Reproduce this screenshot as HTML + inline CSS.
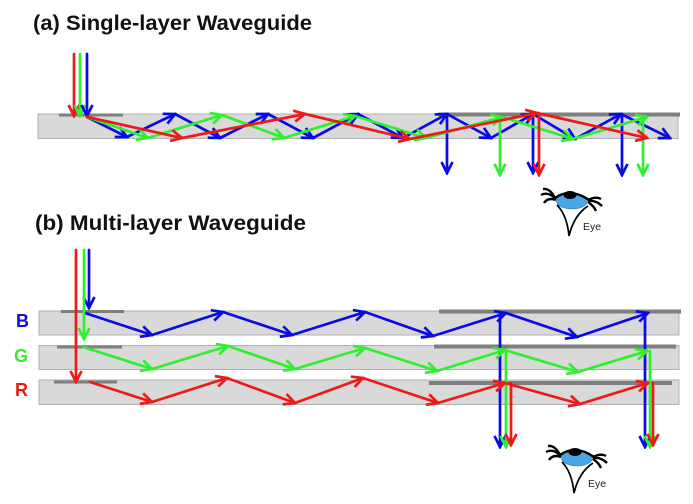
<!DOCTYPE html>
<html><head><meta charset="utf-8"><style>
html,body{margin:0;padding:0;background:#fff;}
svg{display:block;}
</style></head><body>
<svg width="693" height="504" viewBox="0 0 693 504" xmlns="http://www.w3.org/2000/svg">
<defs>
<marker id="mb" viewBox="-13 -8 15 16" refX="0" refY="0" markerWidth="15" markerHeight="16" markerUnits="userSpaceOnUse" orient="auto"><path d="M-11,-5.5 L0,0 L-11,5.5" fill="none" stroke="#0a0ae6" stroke-width="2.7"/></marker>
<marker id="mg" viewBox="-13 -8 15 16" refX="0" refY="0" markerWidth="15" markerHeight="16" markerUnits="userSpaceOnUse" orient="auto"><path d="M-11,-5.5 L0,0 L-11,5.5" fill="none" stroke="#2ff02f" stroke-width="2.7"/></marker>
<marker id="mr" viewBox="-13 -8 15 16" refX="0" refY="0" markerWidth="15" markerHeight="16" markerUnits="userSpaceOnUse" orient="auto"><path d="M-11,-5.5 L0,0 L-11,5.5" fill="none" stroke="#ee1a1a" stroke-width="2.7"/></marker>
<g id="eye">
  <ellipse cx="0" cy="0" rx="15.5" ry="8" fill="#4aa6e6" stroke="#2a6fb0" stroke-width="0.6"/>
  <ellipse cx="-2" cy="-6" rx="6.5" ry="4" fill="#000"/>
  <path d="M-17,-3 Q-2,-14 17,-1" fill="none" stroke="#000" stroke-width="2.4"/>
  <path d="M-16,-2 Q-24,-10 -31,-6 M-16,-1 Q-24,-4 -28,2 M-17,-3 Q-22,-13 -29,-12" fill="none" stroke="#000" stroke-width="2.4"/>
  <path d="M16,0 Q24,-1 30,5 M16,1 Q22,5 24,10 M16,-1 Q24,-5 29,-2" fill="none" stroke="#000" stroke-width="2.4"/>
  <path d="M-15,4 Q-5,14 -3,35 M16,5 Q2,14 -3,35" fill="none" stroke="#000" stroke-width="1.7"/>
  <text x="11" y="29" font-family="Liberation Sans, sans-serif" font-size="10.5" fill="#222">Eye</text>
</g>
</defs>

<!-- Titles -->
<text x="33" y="30" font-family="Liberation Sans, sans-serif" font-weight="bold" font-size="21" textLength="279" lengthAdjust="spacingAndGlyphs" fill="#111">(a) Single-layer Waveguide</text>
<text x="35" y="230" font-family="Liberation Sans, sans-serif" font-weight="bold" font-size="21" textLength="271" lengthAdjust="spacingAndGlyphs" fill="#111">(b) Multi-layer Waveguide</text>

<!-- Panel (a) waveguide -->
<rect x="38" y="114" width="640" height="24.5" fill="#d9d9d9" stroke="#b0b0b0" stroke-width="1"/>
<rect x="59" y="113.5" width="64" height="3" fill="#7f7f7f"/>
<rect x="438" y="112.5" width="242" height="4" fill="#7f7f7f"/>

<g stroke-width="2.7" fill="none" stroke-linecap="round">
<!-- inputs a -->
<line x1="74" y1="54" x2="74" y2="116" stroke="#ee1a1a" marker-end="url(#mr)"/>
<line x1="80" y1="54" x2="80" y2="116" stroke="#2ff02f" marker-end="url(#mg)"/>
<line x1="87" y1="54" x2="87" y2="116" stroke="#0a0ae6" marker-end="url(#mb)"/>
<!-- blue a -->
<g stroke="#0a0ae6">
<line x1="87" y1="117" x2="127" y2="137" marker-end="url(#mb)"/>
<line x1="127" y1="137" x2="175" y2="114" marker-end="url(#mb)"/>
<line x1="175" y1="114" x2="220" y2="138" marker-end="url(#mb)"/>
<line x1="220" y1="138" x2="268" y2="114" marker-end="url(#mb)"/>
<line x1="268" y1="114" x2="313" y2="138" marker-end="url(#mb)"/>
<line x1="313" y1="138" x2="358" y2="114" marker-end="url(#mb)"/>
<line x1="358" y1="114" x2="403" y2="138" marker-end="url(#mb)"/>
<line x1="403" y1="138" x2="447" y2="114" marker-end="url(#mb)"/>
<line x1="447" y1="114" x2="491" y2="138" marker-end="url(#mb)"/>
<line x1="491" y1="138" x2="533" y2="114" marker-end="url(#mb)"/>
<line x1="533" y1="114" x2="575" y2="139" marker-end="url(#mb)"/>
<line x1="575" y1="139" x2="621" y2="114" marker-end="url(#mb)"/>
<line x1="621" y1="114" x2="670" y2="138" marker-end="url(#mb)"/>
<line x1="447" y1="114" x2="447" y2="173" marker-end="url(#mb)"/>
<line x1="533" y1="114" x2="533" y2="173" marker-end="url(#mb)"/>
<line x1="622" y1="114" x2="622" y2="175" marker-end="url(#mb)"/>
</g>
<!-- green a -->
<g stroke="#2ff02f">
<line x1="87" y1="117" x2="148" y2="138" marker-end="url(#mg)"/>
<line x1="148" y1="138" x2="222" y2="115" marker-end="url(#mg)"/>
<line x1="222" y1="115" x2="284" y2="138" marker-end="url(#mg)"/>
<line x1="284" y1="138" x2="355" y2="116" marker-end="url(#mg)"/>
<line x1="355" y1="116" x2="426" y2="138" marker-end="url(#mg)"/>
<line x1="426" y1="138" x2="502" y2="117" marker-end="url(#mg)"/>
<line x1="502" y1="117" x2="573" y2="139" marker-end="url(#mg)"/>
<line x1="573" y1="139" x2="647" y2="117" marker-end="url(#mg)"/>
<line x1="500" y1="117" x2="500" y2="175" marker-end="url(#mg)"/>
<line x1="643" y1="117" x2="643" y2="175" marker-end="url(#mg)"/>
</g>
<!-- red a -->
<g stroke="#ee1a1a">
<line x1="87" y1="117" x2="182" y2="138" marker-end="url(#mr)"/>
<line x1="182" y1="138" x2="305" y2="114" marker-end="url(#mr)"/>
<line x1="305" y1="114" x2="410" y2="139" marker-end="url(#mr)"/>
<line x1="410" y1="139" x2="537" y2="113" marker-end="url(#mr)"/>
<line x1="537" y1="113" x2="647" y2="138" marker-end="url(#mr)"/>
<line x1="539" y1="113" x2="539" y2="175" marker-end="url(#mr)"/>
</g>
</g>

<use href="#eye" x="572" y="201"/>

<!-- Panel (b) -->
<text x="16" y="327" font-family="Liberation Sans, sans-serif" font-weight="bold" font-size="18" fill="#0a0ae6">B</text>
<text x="14" y="362" font-family="Liberation Sans, sans-serif" font-weight="bold" font-size="18" fill="#2ff02f">G</text>
<text x="15" y="396" font-family="Liberation Sans, sans-serif" font-weight="bold" font-size="18" fill="#ee1a1a">R</text>

<rect x="39" y="311" width="640" height="24" fill="#d9d9d9" stroke="#b0b0b0" stroke-width="1"/>
<rect x="39" y="345.5" width="640" height="24" fill="#d9d9d9" stroke="#b0b0b0" stroke-width="1"/>
<rect x="39" y="380" width="640" height="24.5" fill="#d9d9d9" stroke="#b0b0b0" stroke-width="1"/>
<rect x="61" y="310" width="63" height="3" fill="#7f7f7f"/>
<rect x="57" y="345.5" width="65" height="3" fill="#7f7f7f"/>
<rect x="54" y="380.5" width="63" height="3" fill="#7f7f7f"/>
<rect x="439" y="309.5" width="242" height="4" fill="#7f7f7f"/>
<rect x="434" y="344.5" width="242" height="4" fill="#7f7f7f"/>
<rect x="429" y="381" width="243" height="4" fill="#7f7f7f"/>

<g stroke-width="2.7" fill="none" stroke-linecap="round">
<g stroke="#0a0ae6">
<line x1="89" y1="250" x2="89" y2="308" marker-end="url(#mb)"/>
<line x1="85" y1="313" x2="152" y2="335" marker-end="url(#mb)"/>
<line x1="152" y1="335" x2="223" y2="312" marker-end="url(#mb)"/>
<line x1="223" y1="312" x2="292" y2="335" marker-end="url(#mb)"/>
<line x1="292" y1="335" x2="365" y2="312" marker-end="url(#mb)"/>
<line x1="365" y1="312" x2="433" y2="336" marker-end="url(#mb)"/>
<line x1="433" y1="336" x2="506" y2="313" marker-end="url(#mb)"/>
<line x1="506" y1="313" x2="577" y2="337" marker-end="url(#mb)"/>
<line x1="577" y1="337" x2="648" y2="313" marker-end="url(#mb)"/>
<line x1="500" y1="313" x2="500" y2="447" marker-end="url(#mb)"/>
<line x1="645" y1="313" x2="645" y2="447" marker-end="url(#mb)"/>
</g>
<g stroke="#2ff02f">
<line x1="84" y1="250" x2="84" y2="339" marker-end="url(#mg)"/>
<line x1="83" y1="347" x2="152" y2="369" marker-end="url(#mg)"/>
<line x1="152" y1="369" x2="228" y2="346" marker-end="url(#mg)"/>
<line x1="228" y1="346" x2="295" y2="369" marker-end="url(#mg)"/>
<line x1="295" y1="369" x2="365" y2="348" marker-end="url(#mg)"/>
<line x1="365" y1="348" x2="437" y2="371" marker-end="url(#mg)"/>
<line x1="437" y1="371" x2="505" y2="350" marker-end="url(#mg)"/>
<line x1="505" y1="350" x2="578" y2="372" marker-end="url(#mg)"/>
<line x1="578" y1="372" x2="647" y2="351" marker-end="url(#mg)"/>
<line x1="506" y1="350" x2="506" y2="447" marker-end="url(#mg)"/>
<line x1="650" y1="351" x2="650" y2="447" marker-end="url(#mg)"/>
</g>
<g stroke="#ee1a1a">
<line x1="76" y1="250" x2="76" y2="382" marker-end="url(#mr)"/>
<line x1="90" y1="382" x2="152" y2="402" marker-end="url(#mr)"/>
<line x1="152" y1="402" x2="227" y2="378" marker-end="url(#mr)"/>
<line x1="227" y1="378" x2="295" y2="403" marker-end="url(#mr)"/>
<line x1="295" y1="403" x2="363" y2="378" marker-end="url(#mr)"/>
<line x1="363" y1="378" x2="438" y2="403" marker-end="url(#mr)"/>
<line x1="438" y1="403" x2="505" y2="383" marker-end="url(#mr)"/>
<line x1="505" y1="383" x2="580" y2="404" marker-end="url(#mr)"/>
<line x1="580" y1="404" x2="648" y2="383" marker-end="url(#mr)"/>
<line x1="511" y1="383" x2="511" y2="445" marker-end="url(#mr)"/>
<line x1="653" y1="383" x2="653" y2="445" marker-end="url(#mr)"/>
</g>
</g>

<use href="#eye" x="577" y="458"/>
</svg>
</body></html>
